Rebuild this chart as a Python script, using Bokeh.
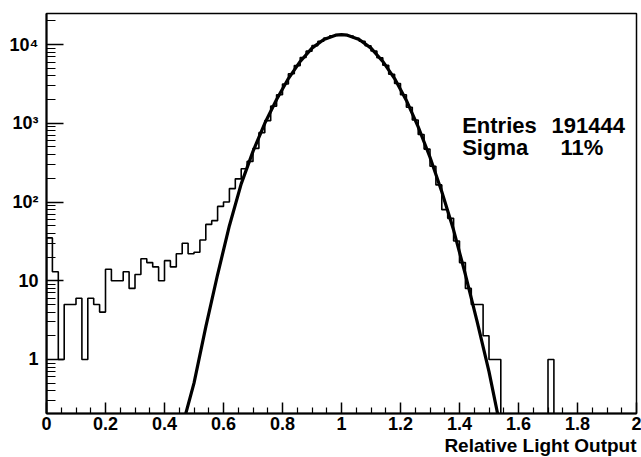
import numpy as np
from bokeh.plotting import figure
from bokeh.models import FixedTicker, Label, Range1d, Title
from bokeh.embed import file_html
from bokeh.resources import INLINE

# ---- data ----
bin_start = 0.0
bin_width = 0.02
counts = [
    35, 13, 1, 5, 5, 6, 1, 6, 5, 4,            # 0.00 - 0.20
    14, 10, 10, 13, 8, 12, 19, 17, 15, 10,     # 0.20 - 0.40
    18, 15, 22, 30, 22, 23, 33, 52, 58, 88,    # 0.40 - 0.60
    100, 148, 197, 265, 328, 480, 760, 1080, 1650, 2300,   # 0.60 - 0.80
    3150, 4250, 5400, 6850, 8250, 9700, 11000, 12100, 12900, 13300,  # 0.80 - 1.00
    13300, 12850, 12050, 11000, 9650, 8300, 6800, 5450, 4200, 3200,  # 1.00 - 1.20
    2300, 1600, 1100, 720, 470, 285, 165, 80, 62, 32,      # 1.20 - 1.40
    17, 8, 5, 5, 2, 1, 1, 0, 0, 0,             # 1.40 - 1.60
    0, 0, 0, 0, 0, 1, 0, 0, 0, 0,              # 1.60 - 1.80
    0, 0, 0, 0, 0, 0, 0, 0, 0, 0,              # 1.80 - 2.00
]

fit_x = [0.46, 0.50, 0.54, 0.58, 0.62, 0.66, 0.70, 0.74, 0.78, 0.82, 0.86, 0.90,
         0.94, 0.98, 1.00, 1.02, 1.06, 1.10, 1.14, 1.18, 1.22, 1.26, 1.30, 1.34,
         1.38, 1.42, 1.46, 1.50, 1.54]
fit_y = [0.14, 0.50, 2.6, 12, 50, 170, 440, 1000, 2000, 3700, 6100, 9000,
         11600, 13150, 13400, 13150, 11600, 9000, 6100, 3700, 1950, 900, 370, 135,
         44, 12, 3.0, 0.7, 0.13]

x_ticks = [0, 0.2, 0.4, 0.6, 0.8, 1, 1.2, 1.4, 1.6, 1.8, 2]
x_tick_labels = ["0", "0.2", "0.4", "0.6", "0.8", "1", "1.2", "1.4", "1.6", "1.8", "2"]
y_ticks = [1, 10, 100, 1000, 10000]
y_tick_labels = ["1", "10", "10\u00b2", "10\u00b3", "10\u2074"]

stat_names = ["Entries", "Sigma"]
stat_values = ["191444", "11%"]
x_title = "Relative Light Output"

FONT = "Liberation Sans"

# ---- histogram outline path ----
vals = np.array(counts, dtype=float)
disp = np.where(vals > 0, vals, 1e-3)
edges = bin_start + bin_width * np.arange(len(counts) + 1)
hx = np.concatenate([[edges[0]], np.repeat(edges, 2)[1:-1], [edges[-1]]])
hy = np.concatenate([[1e-3], np.repeat(disp, 2), [1e-3]])

p = figure(width=641, height=457,
           x_range=Range1d(0, 2), y_range=Range1d(0.206, 24800),
           y_axis_type="log", output_backend="svg", toolbar_location=None,
           min_border_left=46, min_border_right=5, min_border_top=13,
           min_border_bottom=44)
p.background_fill_color = "white"
p.border_fill_color = "white"
p.xgrid.visible = False
p.ygrid.visible = False
p.outline_line_color = "black"
p.outline_line_width = 1.5

p.line(hx, hy, line_color="black", line_width=1.6)
p.line(fit_x, fit_y, line_color="black", line_width=3.2)

# axes
xminor = [round(0.05 * i, 2) for i in range(41) if i % 4 != 0]
p.xaxis.ticker = FixedTicker(ticks=x_ticks, minor_ticks=xminor)
p.xaxis.major_label_overrides = {t: l for t, l in zip(x_ticks, x_tick_labels)}
yminor = [m * 10.0 ** k for k in range(-1, 5) for m in range(2, 10)]
p.yaxis.ticker = FixedTicker(ticks=y_ticks, minor_ticks=yminor)
p.yaxis.major_label_overrides = {t: l for t, l in zip(y_ticks, y_tick_labels)}

for ax in (p.xaxis, p.yaxis):
    ax.axis_line_color = "black"
    ax.axis_line_width = 2
    ax.major_tick_line_color = "black"
    ax.minor_tick_line_color = "black"
    ax.major_tick_line_width = 1.5
    ax.minor_tick_line_width = 1.2
    ax.major_tick_out = 0
    ax.minor_tick_out = 0
    ax.major_label_text_font = FONT
    ax.major_label_text_font_style = "bold"
    ax.major_label_text_font_size = "18px"
    ax.major_label_text_color = "black"

p.xaxis.major_tick_in = 11
p.xaxis.minor_tick_in = 6
p.xaxis.major_label_standoff = 3
p.yaxis.major_tick_in = 17
p.yaxis.minor_tick_in = 9
p.yaxis.major_label_standoff = 8

# x axis title, right aligned under the end of the axis
p.add_layout(Title(text=x_title, align="right", standoff=0, offset=0,
                   text_font=FONT, text_font_style="bold", text_font_size="19px",
                   text_color="black"), "below")

# stats box text
for name, y in zip(stat_names, [938, 492]):
    p.add_layout(Label(x=1.409, y=y, text=name, text_font=FONT, text_font_style="bold",
                       text_font_size="22px", text_color="black", text_baseline="alphabetic"))
for val, x, y in zip(stat_values, [1.712, 1.742], [938, 492]):
    p.add_layout(Label(x=x, y=y, text=val, text_font=FONT, text_font_style="bold",
                       text_font_size="22px", text_color="black", text_baseline="alphabetic"))

open("out.html", "w").write(file_html(p, INLINE))
